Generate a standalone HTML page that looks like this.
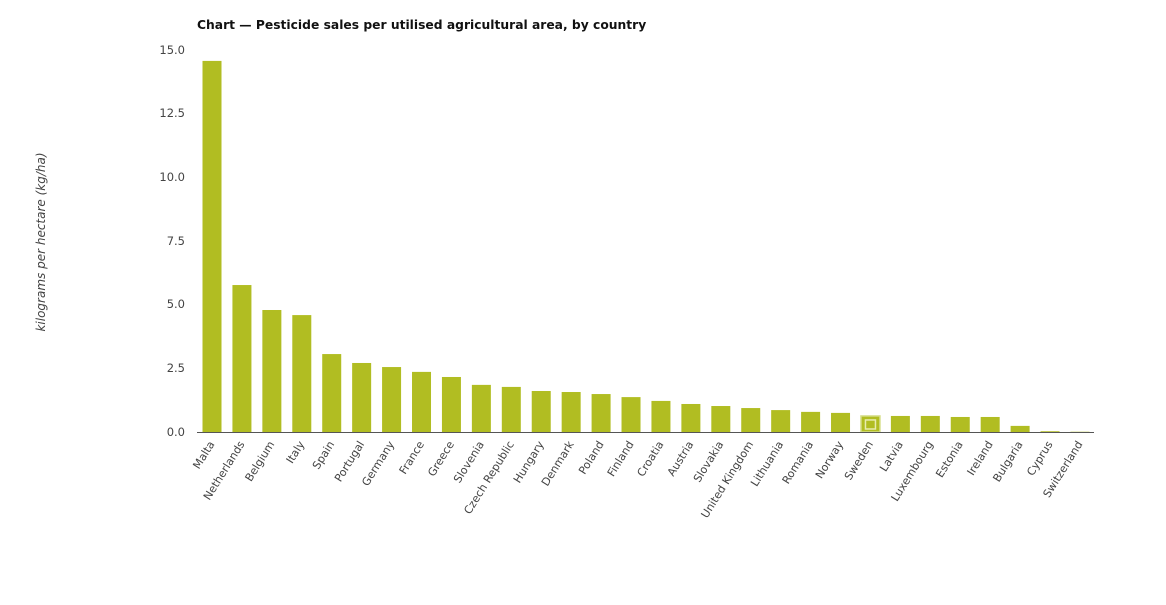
<!DOCTYPE html>
<html><head><meta charset="utf-8"><style>
body{margin:0;background:#fff;}
text{font-family:"DejaVu Sans","Liberation Sans",sans-serif;}
</style></head><body>
<svg width="1166" height="600" xmlns="http://www.w3.org/2000/svg">
<text x="197" y="29" font-size="12.3" font-weight="bold" fill="#111">Chart — Pesticide sales per utilised agricultural area, by country</text>
<text transform="translate(45,242) rotate(-90)" text-anchor="middle" font-size="12" font-style="italic" fill="#444">kilograms per hectare (kg/ha)</text>
<g font-size="11.5" fill="#444" text-anchor="end">
<text x="185" y="436">0.0</text><text x="185" y="372">2.5</text><text x="185" y="308">5.0</text><text x="185" y="245">7.5</text><text x="185" y="181">10.0</text><text x="185" y="117">12.5</text><text x="185" y="54">15.0</text>
</g>
<g id="bars" fill="#b1bd22"></g>
<line x1="197" y1="432.5" x2="1094" y2="432.5" stroke="#555" stroke-width="1"/>
<g id="labels" font-size="11" fill="#444"></g>
</svg>
<script>
var d=[["Malta",14.57],["Netherlands",5.77],["Belgium",4.79],["Italy",4.59],["Spain",3.06],["Portugal",2.71],["Germany",2.55],["France",2.36],["Greece",2.16],["Slovenia",1.85],["Czech Republic",1.77],["Hungary",1.61],["Denmark",1.57],["Poland",1.49],["Finland",1.37],["Croatia",1.22],["Austria",1.1],["Slovakia",1.02],["United Kingdom",0.94],["Lithuania",0.86],["Romania",0.79],["Norway",0.75],["Sweden",0.63],["Latvia",0.63],["Luxembourg",0.63],["Estonia",0.59],["Ireland",0.59],["Bulgaria",0.24],["Cyprus",0.03],["Switzerland",0.01]];
var ns="http://www.w3.org/2000/svg",b=document.getElementById("bars"),l=document.getElementById("labels");
d.forEach(function(e,i){var cx=212+i*29.93,h=e[1]*25.47;
var r=document.createElementNS(ns,"rect");r.setAttribute("x",cx-9.5);r.setAttribute("y",432-h);r.setAttribute("width",19);r.setAttribute("height",h);
b.appendChild(r);
if(e[0]=="Sweden"){r.setAttribute("stroke","#d6de8a");r.setAttribute("stroke-width","1.5");
var q=document.createElementNS(ns,"rect");q.setAttribute("x",cx-5);q.setAttribute("y",432-h+4);q.setAttribute("width",10);q.setAttribute("height",h-7);q.setAttribute("fill","none");q.setAttribute("stroke","#e8ecb0");q.setAttribute("stroke-width","1.5");b.appendChild(q);}
var t=document.createElementNS(ns,"text");t.setAttribute("transform","translate("+(cx+3)+",444) rotate(-58)");t.setAttribute("text-anchor","end");t.textContent=e[0];l.appendChild(t);});
</script>
</body></html>
